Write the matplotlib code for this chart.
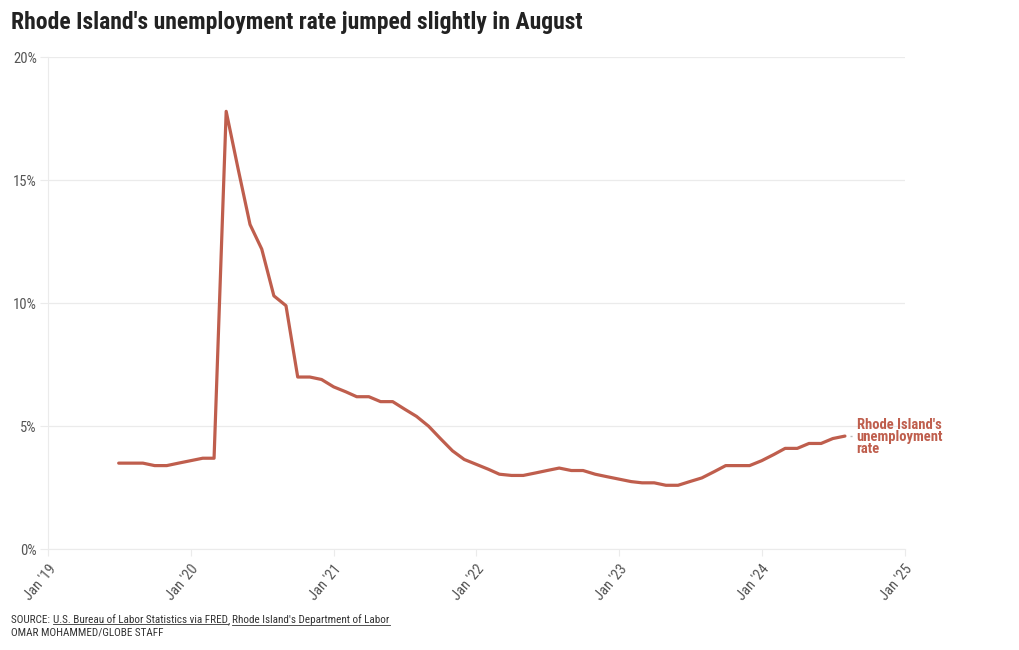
#!/usr/bin/env python3
"""
Rhode Island unemployment rate, Jul 2019 - Aug 2024 (monthly).
"""

import matplotlib
matplotlib.use("Agg")
import matplotlib.pyplot as plt
import matplotlib.dates as mdates
import pandas as pd
from matplotlib.lines import Line2D

# monthly unemployment rate (%) starting Jul 2019
start_month = "2019-07-01"
rate = [
    3.5, 3.5, 3.5, 3.4, 3.4, 3.5,                      # 2019 Jul-Dec
    3.6, 3.7, 3.7, 17.8, 15.5, 13.2, 12.2, 10.3, 9.9, 7.0, 7.0, 6.9,   # 2020
    6.6, 6.4, 6.2, 6.2, 6.0, 6.0, 5.7, 5.4, 5.0, 4.5, 4.0, 3.65,       # 2021
    3.45, 3.25, 3.05, 3.0, 3.0, 3.1, 3.2, 3.3, 3.2, 3.2, 3.05, 2.95,   # 2022
    2.85, 2.75, 2.7, 2.7, 2.6, 2.6, 2.75, 2.9, 3.15, 3.4, 3.4, 3.4,    # 2023
    3.6, 3.85, 4.1, 4.1, 4.3, 4.3, 4.5, 4.6,                          # 2024 Jan-Aug
]
yticks = [0, 5, 10, 15, 20]
ytick_labels = ["0%", "5%", "10%", "15%", "20%"]
xtick_years = [2019, 2020, 2021, 2022, 2023, 2024, 2025]
xtick_labels = ["Jan '19", "Jan '20", "Jan '21", "Jan '22", "Jan '23", "Jan '24", "Jan '25"]

title = "Rhode Island's unemployment rate jumped slightly in August"
series_label = "Rhode Island's\nunemployment\nrate"

LINE = "#bf5e4d"
GRID = "#ebebeb"
COND = ["Roboto Condensed", "Barlow Semi Condensed", "DejaVu Sans"]


def main():
    dates = pd.date_range(start_month, periods=len(rate), freq="MS")

    fig = plt.figure(figsize=(10.2, 6.5), dpi=100)
    ax = fig.add_axes([0.047, 0.155, 0.840, 0.757])

    ax.plot(dates, rate, color=LINE, lw=2.3, solid_joinstyle="round",
            solid_capstyle="round", zorder=3)

    ax.set_ylim(0, 20)
    ax.set_xlim(pd.Timestamp("2019-01-01"), pd.Timestamp("2025-01-01"))
    ax.set_yticks(yticks)
    ax.set_yticklabels(ytick_labels, family=COND, fontsize=10.5, color="#555")
    xt = [pd.Timestamp(f"{y}-01-01") for y in xtick_years]
    ax.set_xticks(xt)
    ax.set_xticklabels(xtick_labels, family=COND, fontsize=10.5, color="#555",
                       rotation=50, ha="right", rotation_mode="anchor")

    ax.grid(axis="y", color=GRID, lw=0.9, zorder=0)
    for s in ["top", "right"]:
        ax.spines[s].set_visible(False)
    ax.spines["left"].set_color(GRID)
    ax.spines["bottom"].set_color(GRID)
    ax.tick_params(axis="y", length=6, color=GRID, pad=2)
    ax.tick_params(axis="x", length=5, color=GRID, pad=4)

    # end label
    last_x = mdates.date2num(dates[-1])
    ax.plot([last_x + 12, last_x + 24], [rate[-1], rate[-1]], color="#bbbbbb",
            lw=1, ls=(0, (1.5, 1.5)), clip_on=False)
    ax.text(last_x + 30, rate[-1] + 0.75, series_label, family=COND,
            fontsize=10.5, fontweight="bold", color=LINE, va="top", ha="left",
            linespacing=0.82)

    fig.text(0.011, 0.966, title, family=COND, fontsize=17, fontweight="bold",
             color="#222222", va="center", ha="left")

    # source lines with underlined links
    fig.canvas.draw()
    r = fig.canvas.get_renderer()
    y1 = 1 - 620 / 650
    pieces = [("SOURCE: ", False), ("U.S. Bureau of Labor Statistics via FRED", True),
              (", ", False), ("Rhode Island's Department of Labor", True)]
    x = 0.011
    for txt, underline in pieces:
        t = fig.text(x, y1, txt, family=COND, fontsize=8, color="#333",
                     va="center", ha="left")
        bb = t.get_window_extent(r).transformed(fig.transFigure.inverted())
        if underline:
            fig.add_artist(Line2D([bb.x0, bb.x1], [bb.y0 + 0.001, bb.y0 + 0.001],
                                  color="#333", lw=0.6))
        x = bb.x1
    fig.text(0.011, 1 - 633 / 650, "OMAR MOHAMMED/GLOBE STAFF", family=COND,
             fontsize=8, color="#333", va="center", ha="left")

    fig.savefig("out.png", dpi=100, facecolor="white")


if __name__ == "__main__":
    main()
